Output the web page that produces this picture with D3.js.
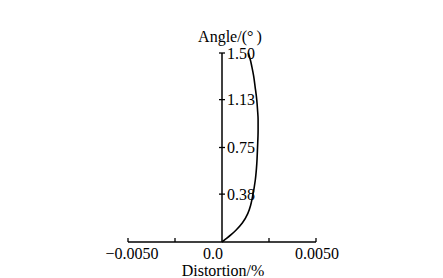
<!DOCTYPE html>
<html><head><meta charset="utf-8">
<script src="https://cdn.jsdelivr.net/npm/d3@7"></script>
<style>body{margin:0;background:#fff}svg{display:block}text{font-family:"Liberation Serif","Times New Roman",serif;fill:#000}</style>
</head><body><svg id="c" width="443" height="278"></svg>
<script>
const angles = [0, 0.03, 0.06, 0.093, 0.15, 0.225, 0.29, 0.357, 0.49, 0.62, 0.75, 0.885, 0.97, 1.05, 1.127, 1.233, 1.32, 1.39, 1.45, 1.5];
const distortion = [0, 0.00026, 0.0005, 0.00074, 0.00108, 0.00137, 0.00152, 0.00162, 0.00177, 0.00185, 0.00189, 0.00192, 0.00192, 0.00189, 0.00185, 0.00176, 0.00168, 0.00159, 0.0015, 0.0014];
const xTicks = [-0.005, -0.0025, 0, 0.0025, 0.005];
const xLabels = [[-0.005, "\u22120.0050"], [0, "0.0"], [0.005, "0.0050"]];
const yTicks = [0.38, 0.75, 1.13, 1.50];
const yLabels = ["0.38", "0.75", "1.13", "1.50"];

const svg = d3.select("#c");
const x = d3.scaleLinear().domain([-0.005, 0.005]).range([128, 316]);
const y = d3.scaleLinear().domain([0, 1.5]).range([242, 53]);

// x axis
svg.append("line").attr("x1", x(-0.005)).attr("x2", x(0.005)).attr("y1", y(0)).attr("y2", y(0))
  .attr("stroke", "#000").attr("stroke-width", 1.5);
svg.selectAll(".xt").data(xTicks.filter(d => d !== 0)).enter().append("line")
  .attr("x1", d => x(d)).attr("x2", d => x(d)).attr("y1", y(0)).attr("y2", y(0) - 4)
  .attr("stroke", "#000").attr("stroke-width", 1.3);
const dxs = {"-0.005": 4, "0": 1, "0.005": 1};
svg.selectAll(".xl").data(xLabels).enter().append("text")
  .attr("x", d => x(d[0]) + dxs[String(d[0])])
  .attr("y", 259)
  .attr("text-anchor", d => d[0] === 0 ? "end" : "middle")
  .attr("font-size", 16).text(d => d[1]);
svg.append("text").attr("x", 223).attr("y", 276).attr("text-anchor", "middle")
  .attr("font-size", 16).text("Distortion/%");

// y axis
svg.append("line").attr("x1", x(0)).attr("x2", x(0)).attr("y1", y(0)).attr("y2", y(1.5))
  .attr("stroke", "#000").attr("stroke-width", 1.5);
svg.selectAll(".yt").data(yTicks).enter().append("line")
  .attr("x1", x(0) - 3).attr("x2", x(0) + 3).attr("y1", d => y(d)).attr("y2", d => y(d))
  .attr("stroke", "#000").attr("stroke-width", 1.3);
svg.selectAll(".yl").data(yTicks).enter().append("text")
  .attr("x", x(0) + 5).attr("y", d => y(d) + 5.5)
  .attr("font-size", 16).text((d, i) => yLabels[i]);
svg.append("text").attr("x", 230).attr("y", 42).attr("text-anchor", "middle")
  .attr("font-size", 16).text("Angle/(\u00b0\u2009)");

// curve
const line = d3.line().x((d, i) => x(distortion[i])).y(d => y(d)).curve(d3.curveMonotoneY);
svg.append("path").datum(angles).attr("d", line).attr("fill", "none")
  .attr("stroke", "#000").attr("stroke-width", 1.6);
</script></body></html>
